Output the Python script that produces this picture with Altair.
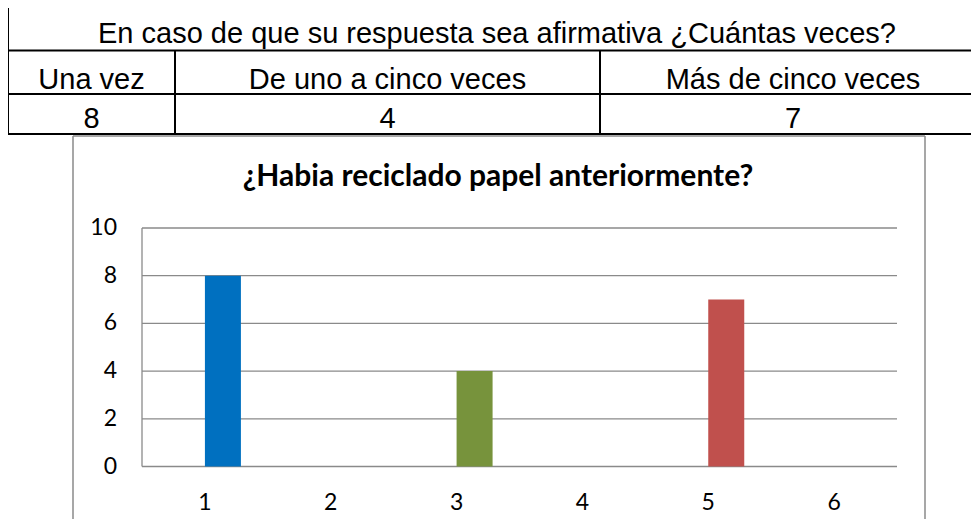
import altair as alt
import pandas as pd

# ---------------- data ----------------
question = "En caso de que su respuesta sea afirmativa ¿Cuántas veces?"
answers = ["Una vez", "De uno a cinco veces", "Más de cinco veces"]
counts = [8, 4, 7]
chart_title = "¿Habia reciclado papel anteriormente?"
x_categories = ["1", "2", "3", "4", "5", "6"]
bar_categories = ["1", "3", "5"]
bar_colors = ["#0070C0", "#77933C", "#C0504D"]
y_ticks = [0, 2, 4, 6, 8, 10]

# ---------------- layout (page pixels) ----------------
OFF = 11  # padding 3 + page margin 8
W, H = 960, 508

def px(v):
    return v - OFF

TABLE_ROWS = [7, 50.5, 94, 134]
TABLE_COLS = [8, 175, 600, 986]
ROW_BASE = [42.5, 88.5, 127.5]
FRAME = dict(left=73, right=925, top=136, bottom=600)
PLOT = dict(left=142, right=897, top=228, bottom=466.5)

GRID_COLOR = "#8a8a8a"
LINE_W = 2

X_SCALE = alt.Scale(domain=x_categories, range=[px(PLOT["left"]), px(PLOT["right"])],
                    paddingInner=0, paddingOuter=0)
Y_SCALE = alt.Scale(domain=[0, 10], range=[px(PLOT["bottom"]), px(PLOT["top"])], nice=False)

layers = []

# ---- table lines ----
hlines = pd.DataFrame({
    "x": [px(TABLE_COLS[0])] * 4,
    "x2": [px(TABLE_COLS[-1])] * 4,
    "y": [px(v) for v in TABLE_ROWS],
})
layers.append(alt.Chart(hlines).mark_rule(color="black", strokeWidth=LINE_W).encode(
    x=alt.X("x:Q", scale=None), x2="x2:Q", y=alt.Y("y:Q", scale=None)))

vlines = pd.DataFrame({
    "x": [px(TABLE_COLS[0]), px(TABLE_COLS[1]), px(TABLE_COLS[2])],
    "y": [px(TABLE_ROWS[0]), px(TABLE_ROWS[1]), px(TABLE_ROWS[1])],
    "y2": [px(TABLE_ROWS[3])] * 3,
})
layers.append(alt.Chart(vlines).mark_rule(color="black", strokeWidth=LINE_W).encode(
    x=alt.X("x:Q", scale=None), y=alt.Y("y:Q", scale=None), y2="y2:Q"))

# ---- table text ----
cells = []
cells.append({"t": question, "cx": px((TABLE_COLS[0] + TABLE_COLS[-1]) / 2), "by": px(ROW_BASE[0])})
for i, (a, c) in enumerate(zip(answers, counts)):
    cx = px((TABLE_COLS[i] + TABLE_COLS[i + 1]) / 2)
    cells.append({"t": a, "cx": cx, "by": px(ROW_BASE[1])})
    cells.append({"t": str(c), "cx": cx, "by": px(ROW_BASE[2])})
layers.append(alt.Chart(pd.DataFrame(cells)).mark_text(
    font="Liberation Sans", fontSize=29, color="black", align="center", baseline="alphabetic"
).encode(x=alt.X("cx:Q", scale=None), y=alt.Y("by:Q", scale=None), text="t:N"))

# ---- chart frame ----
frame_v = pd.DataFrame({"x": [px(FRAME["left"]), px(FRAME["right"])],
                        "y": [px(FRAME["top"])] * 2, "y2": [px(FRAME["bottom"])] * 2})
layers.append(alt.Chart(frame_v).mark_rule(color=GRID_COLOR, strokeWidth=1.5).encode(
    x=alt.X("x:Q", scale=None), y=alt.Y("y:Q", scale=None), y2="y2:Q"))
frame_h = pd.DataFrame({"x": [px(FRAME["left"])], "x2": [px(FRAME["right"])], "y": [px(FRAME["top"])]})
layers.append(alt.Chart(frame_h).mark_rule(color=GRID_COLOR, strokeWidth=1.5).encode(
    x=alt.X("x:Q", scale=None), x2="x2:Q", y=alt.Y("y:Q", scale=None)))

# ---- title ----
layers.append(alt.Chart(pd.DataFrame({"t": [chart_title]})).mark_text(
    font="Lato", fontSize=30, fontWeight="bold", color="black", align="center", baseline="alphabetic"
).encode(x=alt.value(px(498)), y=alt.value(px(185.5)), text="t:N"))

# ---- gridlines ----
grid = pd.DataFrame({"v": y_ticks})
layers.append(alt.Chart(grid).mark_rule(color=GRID_COLOR, strokeWidth=1.3).encode(
    y=alt.Y("v:Q", scale=Y_SCALE, axis=None),
    x=alt.value(px(PLOT["left"])), x2=alt.value(px(PLOT["right"]))))
# left axis line
layers.append(alt.Chart(pd.DataFrame({"a": [0], "b": [10]})).mark_rule(color=GRID_COLOR, strokeWidth=1.3).encode(
    y=alt.Y("a:Q", scale=Y_SCALE, axis=None), y2="b:Q", x=alt.value(px(PLOT["left"]))))

# ---- y labels ----
layers.append(alt.Chart(grid).mark_text(
    font="Lato", fontSize=23, color="black", align="right", baseline="middle"
).encode(y=alt.Y("v:Q", scale=Y_SCALE, axis=None), x=alt.value(px(117)), text="v:Q"))

# ---- x labels ----
layers.append(alt.Chart(pd.DataFrame({"c": x_categories})).mark_text(
    font="Lato", fontSize=23, color="black", align="center", baseline="alphabetic"
).encode(x=alt.X("c:N", scale=X_SCALE, axis=None), y=alt.value(px(509.5)), text="c:N"))

# ---- bars ----
bars = pd.DataFrame({"c": bar_categories, "n": counts, "a": answers})
layers.append(alt.Chart(bars).mark_bar(width=36, xOffset=18).encode(
    x=alt.X("c:N", scale=X_SCALE, axis=None),
    y=alt.Y("n:Q", scale=Y_SCALE, axis=None),
    color=alt.Color("a:N", scale=alt.Scale(domain=answers, range=bar_colors), legend=None)))

chart = alt.layer(*layers).resolve_scale(
    x="independent", y="independent", color="independent"
).properties(
    width=W, height=H,
    autosize=alt.AutoSizeParams(type="none"),
    padding={"left": 3, "top": 3, "right": 0, "bottom": 0},
    background="white",
).configure_view(stroke=None)

chart.save("out.html", embed_options={"renderer": "svg", "actions": False})
